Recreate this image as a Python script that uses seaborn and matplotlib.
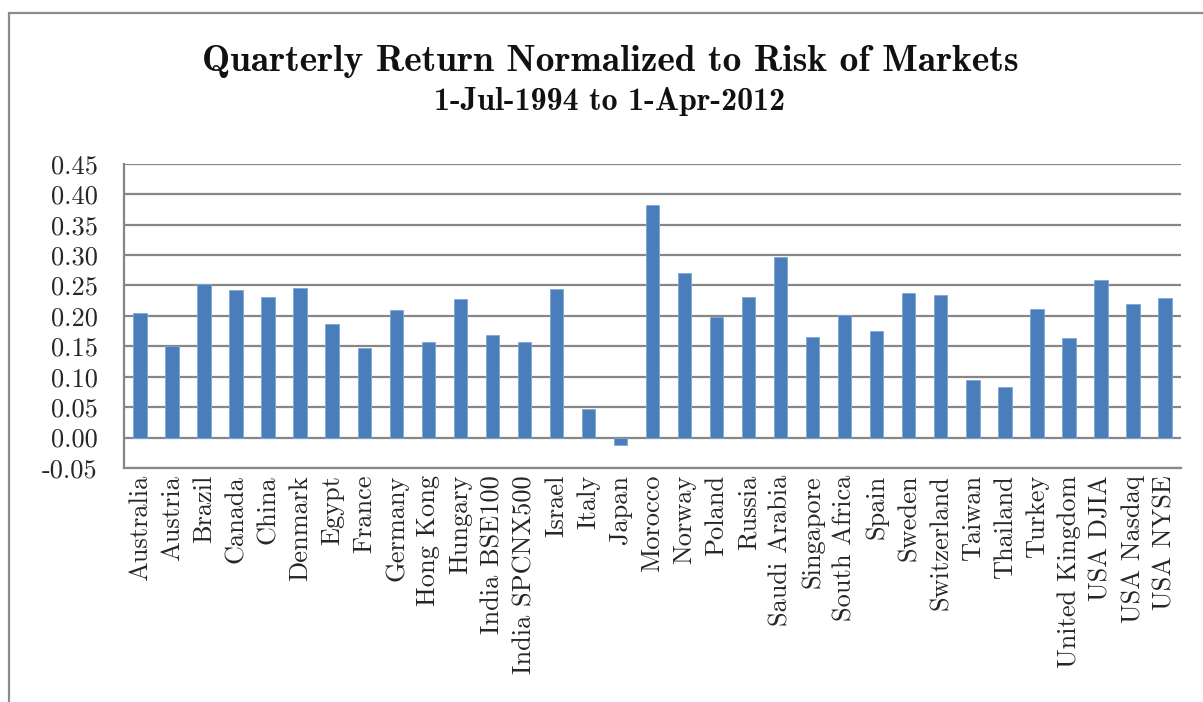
import matplotlib
matplotlib.use("Agg")
import matplotlib.pyplot as plt
import matplotlib.ticker as mticker
from matplotlib.patches import Rectangle
import seaborn as sns
import pandas as pd

markets = ["Australia", "Austria", "Brazil", "Canada", "China", "Denmark", "Egypt",
           "France", "Germany", "Hong Kong", "Hungary", "India BSE100",
           "India SPCNX500", "Israel", "Italy", "Japan", "Morocco", "Norway",
           "Poland", "Russia", "Saudi Arabia", "Singapore", "South Africa", "Spain",
           "Sweden", "Switzerland", "Taiwan", "Thailand", "Turkey", "United Kingdom",
           "USA DJIA", "USA Nasdaq", "USA NYSE"]
returns = [0.205, 0.150, 0.253, 0.242, 0.231, 0.246, 0.187,
           0.147, 0.209, 0.157, 0.227, 0.168,
           0.157, 0.245, 0.047, -0.0125, 0.382, 0.271,
           0.198, 0.231, 0.297, 0.165, 0.201, 0.176,
           0.237, 0.234, 0.094, 0.083, 0.212, 0.163,
           0.259, 0.220, 0.230]
yticks = [-0.05, 0.00, 0.05, 0.10, 0.15, 0.20, 0.25, 0.30, 0.35, 0.40, 0.45]
title = "Quarterly Return Normalized to Risk of Markets"
subtitle = "1-Jul-1994 to 1-Apr-2012"

sns.set_style("white")
plt.rcParams["font.family"] = ["cmr10", "DejaVu Serif"]
plt.rcParams["axes.unicode_minus"] = False
plt.rcParams["axes.formatter.use_mathtext"] = False

df = pd.DataFrame({"market": markets, "ret": returns})

fig = plt.figure(figsize=(12.03, 7.02), dpi=100)
ax = fig.add_axes([124 / 1203, 1 - 468 / 702, (1181 - 124) / 1203, (468 - 163.5) / 702])

grid_c = "#868686"
ax.set_axisbelow(True)
ax.yaxis.grid(True, color=grid_c, linewidth=1.6)
sns.barplot(data=df, x="market", y="ret", color="#4A7EBB", width=0.42,
            saturation=1, edgecolor="#7EA6D6", linewidth=0.6, ax=ax, zorder=3)

ax.set_ylim(-0.05, 0.4505)
ax.set_yticks(yticks)
ax.yaxis.set_major_formatter(mticker.FormatStrFormatter("%.2f"))
ax.set_xlim(-0.5, len(markets) - 0.5)
ax.set_xlabel("")
ax.set_ylabel("")

for s in ["top", "right"]:
    ax.spines[s].set_visible(False)
for s in ["left", "bottom"]:
    ax.spines[s].set_color(grid_c)
    ax.spines[s].set_linewidth(1.6)

ax.tick_params(axis="y", length=0, pad=19, labelsize=19)
ax.tick_params(axis="x", length=0, pad=5, labelsize=19, rotation=90)
for lab in ax.get_xticklabels():
    lab.set_verticalalignment("top")

fig.text(0.507, 1 - 61 / 702, title, ha="center", va="center",
         fontsize=27, family=["cmb10", "DejaVu Serif"], color="#111111")
fig.text(0.507, 1 - 102 / 702, subtitle, ha="center", va="center",
         fontsize=23, family=["cmb10", "DejaVu Serif"], color="#111111")

fig.patches.append(Rectangle((9 / 1203, -0.1), 1.2, 1.1 - 13 / 702,
                             transform=fig.transFigure, fill=False,
                             edgecolor="#8c8c8c", linewidth=1.6, zorder=0))

fig.savefig("out.png", dpi=100)
